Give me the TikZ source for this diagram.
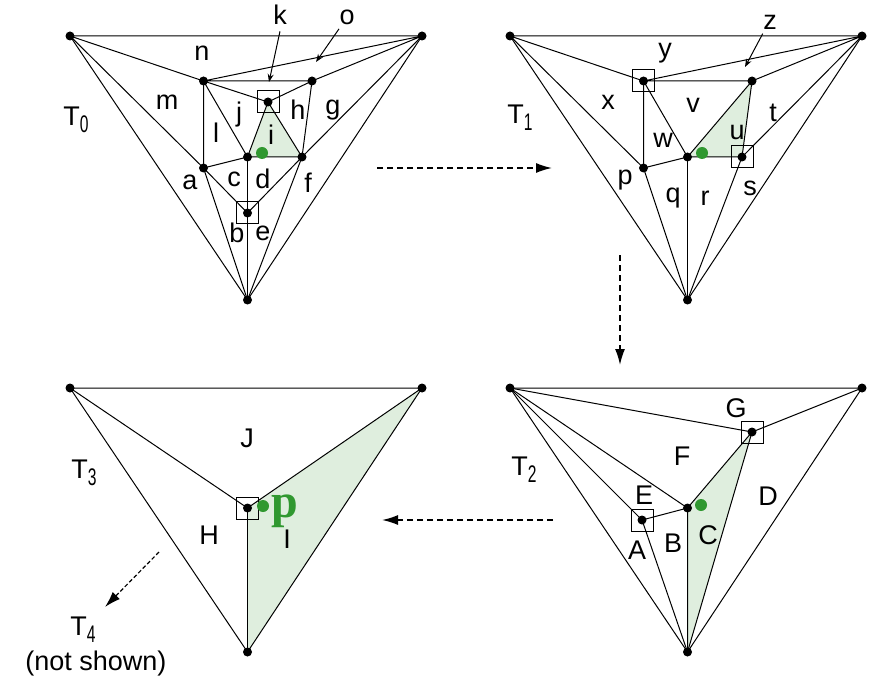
\documentclass[tikz,border=0pt]{standalone}
\usepackage{fontspec}
\usepackage{graphicx}
\setmainfont{Liberation Sans}
\newfontfamily\pfont{Liberation Serif}
\usetikzlibrary{arrows.meta}
\definecolor{ptgreen}{RGB}{48,152,48}
\definecolor{hitface}{RGB}{223,238,222}
\newcommand\tname[1]{T\raisebox{-3.5pt}{\scalebox{0.65}[1]{\fontsize{12}{12}\selectfont #1}}}
\tikzset{
  vdot/.style={circle,fill=black,inner sep=0pt,minimum size=4.5pt},
  vbox/.style={draw,inner sep=0pt,minimum size=11pt,line width=0.5pt},
  qdot/.style={circle,fill=ptgreen,inner sep=0pt,minimum size=6pt},
  lbl/.style={inner sep=0pt},
  lead/.style={line width=0.5pt,-{Stealth[length=4pt,width=3pt]}},
  flow/.style={line width=0.8pt,dash pattern=on 3pt off 2pt,-{Latex[length=8pt,width=5pt]}},
}
\begin{document}
\begin{tikzpicture}[x=0.5pt,y=-0.5pt,line width=0.5pt,
    font=\fontsize{13.5}{16}\selectfont]
  \useasboundingbox (0,0) rectangle (870,678);

  % T0
  \begin{scope}[shift={(70,36)}]
    \coordinate (t0tl) at (0,0);
    \coordinate (t0tr) at (352,0);
    \coordinate (t0b) at (177.5,264);
    \coordinate (t0n1) at (133.5,45);
    \coordinate (t0n2) at (242,45);
    \coordinate (t0k) at (198,66);
    \coordinate (t0a) at (133.5,132);
    \coordinate (t0c) at (177.5,121);
    \coordinate (t0f) at (232,121);
    \coordinate (t0e) at (177.5,177);
    \fill[hitface] (t0k) -- (t0c) -- (t0f) -- cycle;
    \draw (t0tl) -- (t0tr) -- (t0b) -- cycle;
    \draw (t0tl) -- (t0n1) -- (t0tr) -- (t0n2) -- (t0n1);
    \draw (t0tl) -- (t0a) -- (t0b);
    \draw (t0n1) -- (t0a) -- (t0c) -- (t0f) -- (t0tr);
    \draw (t0n1) -- (t0k) -- (t0n2) -- (t0f) -- (t0b);
    \draw (t0n1) -- (t0c) -- (t0k) -- (t0f) -- (t0e) -- (t0a);
    \draw (t0c) -- (t0b);
    \foreach \v in {tl,tr,b,n1,n2,k,a,c,f,e}
      \node[vdot] (t0\v-d) at (t0\v) {};
    \node[vbox] (t0k-box) at (t0k) {};
    \node[vbox] (t0e-box) at (t0e) {};
    \node[qdot] (t0q) at (192,117) {};
    \node[lbl] (t0name) at (6,84) {\tname0};
    \foreach \lab/\x/\y in {k/210/-21, o/277/-19, n/132/17, m/97/66, j/169/79,
        l/146/97, i/201/99, h/228/74, g/263/74, a/120/146, c/164/143,
        d/193/143, f/238/147, b/167/197, e/193/197}
      \node[lbl] (t0-\lab) at (\x,\y) {\lab};
    \coordinate (t0k-tip) at (199,46);
    \coordinate (t0o-tip) at (246,26);
    \draw[lead] ([yshift=-3pt]t0-k.south) -- (t0k-tip);
    \draw[lead] ([yshift=-2pt]t0-o.south west) -- (t0o-tip);
  \end{scope}

  % T1
  \begin{scope}[shift={(510,36)}]
    \coordinate (t1tl) at (0,0);
    \coordinate (t1tr) at (352,0);
    \coordinate (t1b) at (177.5,264);
    \coordinate (t1n1) at (133.5,45);
    \coordinate (t1n2) at (242,45);
    \coordinate (t1p) at (133.5,132);
    \coordinate (t1c) at (177.5,121);
    \coordinate (t1s) at (232,121);
    \fill[hitface] (t1c) -- (t1n2) -- (t1s) -- cycle;
    \draw (t1tl) -- (t1tr) -- (t1b) -- cycle;
    \draw (t1tl) -- (t1n1) -- (t1tr) -- (t1n2) -- (t1n1);
    \draw (t1tl) -- (t1p) -- (t1b);
    \draw (t1n1) -- (t1p) -- (t1c) -- (t1s) -- (t1tr);
    \draw (t1n1) -- (t1c) -- (t1n2) -- (t1s) -- (t1b);
    \draw (t1c) -- (t1b);
    \foreach \v in {tl,tr,b,n1,n2,p,c,s}
      \node[vdot] (t1\v-d) at (t1\v) {};
    \node[vbox] (t1n1-box) at (t1n1) {};
    \node[vbox] (t1s-box) at (t1s) {};
    \node[qdot] (t1q) at (192,117) {};
    \node[lbl] (t1name) at (10,82) {\tname1};
    \foreach \lab/\x/\y in {z/260/-14, y/155/17, x/98/66, w/153/104, v/183/69,
        u/227/97, t/263/77, p/115/144, q/163/162, r/195/162, s/240/152}
      \node[lbl] (t1-\lab) at (\x,\y) {\lab};
    \coordinate (t1z-tip) at (235,31);
    \draw[lead] ([yshift=-2pt]t1-z.south west) -- (t1z-tip);
  \end{scope}

  % T2
  \begin{scope}[shift={(510,388)}]
    \coordinate (t2tl) at (0,0);
    \coordinate (t2tr) at (352,0);
    \coordinate (t2b) at (177.5,264);
    \coordinate (t2g) at (242,44);
    \coordinate (t2c) at (177.5,120);
    \coordinate (t2e) at (132,132);
    \fill[hitface] (t2c) -- (t2g) -- (t2b) -- cycle;
    \draw (t2tl) -- (t2tr) -- (t2b) -- cycle;
    \draw (t2tl) -- (t2g) -- (t2tr);
    \draw (t2tl) -- (t2c) -- (t2g) -- (t2b);
    \draw (t2tl) -- (t2e) -- (t2c) -- (t2b);
    \draw (t2e) -- (t2b);
    \foreach \v in {tl,tr,b,g,c,e}
      \node[vdot] (t2\v-d) at (t2\v) {};
    \node[vbox] (t2g-box) at (t2g) {};
    \node[vbox] (t2e-box) at (t2e) {};
    \node[qdot] (t2q) at (191,117) {};
    \node[lbl] (t2name) at (14,82) {\tname2};
    \foreach \lab/\x/\y in {G/226/20, F/172/68, E/134/107, D/258/108,
        A/127/162, B/163/155, C/198/147}
      \node[lbl] (t2-\lab) at (\x,\y) {\lab};
  \end{scope}

  % T3
  \begin{scope}[shift={(70,388)}]
    \coordinate (t3tl) at (0,0);
    \coordinate (t3tr) at (352,0);
    \coordinate (t3b) at (177.5,264);
    \coordinate (t3h) at (177.5,120);
    \fill[hitface] (t3h) -- (t3tr) -- (t3b) -- cycle;
    \draw (t3tl) -- (t3tr) -- (t3b) -- cycle;
    \draw (t3tl) -- (t3h) -- (t3tr);
    \draw (t3h) -- (t3b);
    \foreach \v in {tl,tr,b,h}
      \node[vdot] (t3\v-d) at (t3\v) {};
    \node[vbox] (t3h-box) at (t3h) {};
    \node[qdot] (t3q) at (193,118) {};
    \node[lbl,anchor=base west,text=ptgreen,
      font=\pfont\bfseries\fontsize{24}{24}\selectfont] (t3p) at (201,129) {p};
    \node[lbl] (t3name) at (14,85) {\tname3};
    \foreach \lab/\x/\y in {J/177/50, H/139/147, I/217/151}
      \node[lbl] (t3-\lab) at (\x,\y) {\lab};
  \end{scope}
  \node[lbl] (t4name) at (83,630) {\tname4};
  \node[lbl] (t4note) at (96,664) {(not shown)};

  % steps
  \coordinate (s01a) at (377,168);
  \coordinate (s01b) at (552,168);
  \coordinate (s12a) at (620,255);
  \coordinate (s12b) at (620,365);
  \coordinate (s23a) at (553,520);
  \coordinate (s23b) at (382,520);
  \coordinate (s34a) at (159,552);
  \coordinate (s34b) at (105,607);
  \draw[flow] (s01a) -- (s01b);
  \draw[flow] (s12a) -- (s12b);
  \draw[flow] (s23a) -- (s23b);
  \draw[flow,line width=0.6pt,dash pattern=on 2pt off 1.2pt] (s34a) -- (s34b);
\end{tikzpicture}
\end{document}
